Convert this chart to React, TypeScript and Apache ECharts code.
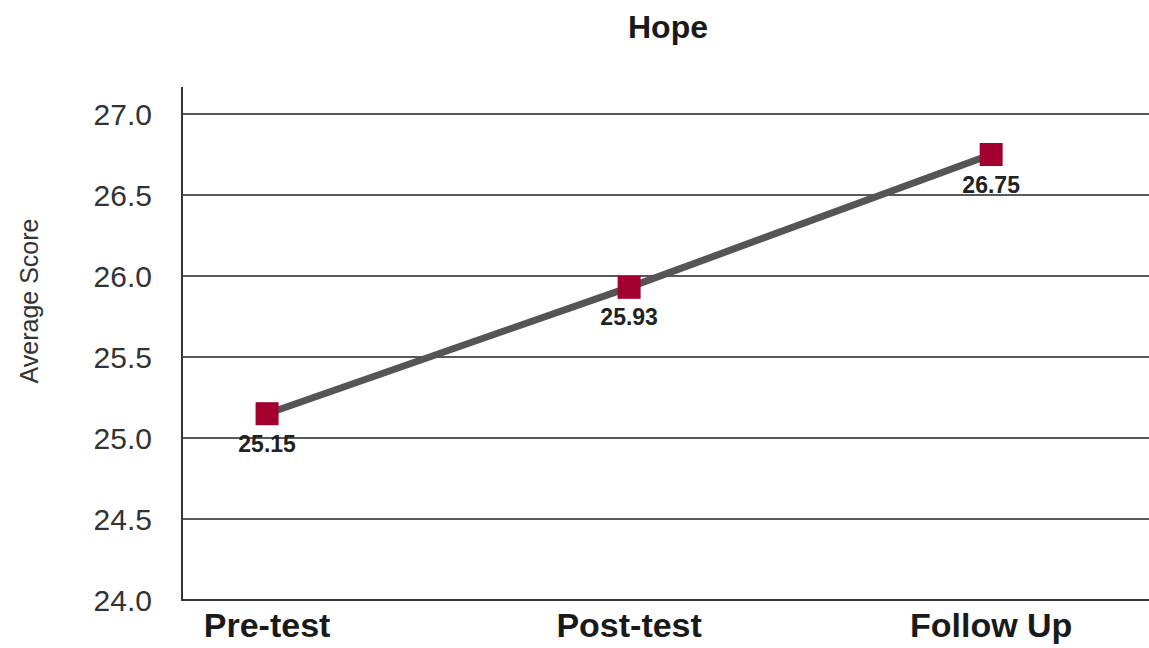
import React, { useEffect, useRef } from "react";
import * as echarts from "echarts";

// Hope scale: mean scores across three measurement points
const categories = ["Pre-test", "Post-test", "Follow Up"];
const averageScores = [25.15, 25.93, 26.75];
const yTicks = { min: 24.0, max: 27.0, interval: 0.5 };

export default function App() {
  const ref = useRef<HTMLDivElement>(null);

  useEffect(() => {
    if (!ref.current) return;
    const chart = echarts.init(ref.current, null, { renderer: "svg" });
    const points = averageScores.map((v, i) => [i, v]);

    chart.setOption({
      animation: false,
      backgroundColor: "#ffffff",
      title: {
        text: "Hope",
        left: 663,
        top: 6,
        textAlign: "center",
        textStyle: {
          fontFamily: "Liberation Sans",
          fontWeight: "bold",
          fontSize: 32,
          color: "#1a1a1a",
        },
      },
      grid: { left: 182, right: 0, top: 114, bottom: 48 },
      xAxis: {
        type: "value",
        min: -0.235,
        max: 2.436,
        splitLine: { show: false },
        axisTick: { show: false },
        axisLine: { show: true, onZero: false, lineStyle: { color: "#333", width: 2 } },
        axisLabel: {
          customValues: [0, 1, 2],
          formatter: (v: number) => categories[Math.round(v)] ?? "",
          margin: 8,
          fontFamily: "Liberation Sans",
          fontWeight: "bold",
          fontSize: 34,
          color: "#1a1a1a",
        },
      },
      yAxis: {
        type: "value",
        min: yTicks.min,
        max: yTicks.max,
        interval: yTicks.interval,
        name: "Average Score",
        nameLocation: "middle",
        nameGap: 141,
        nameTextStyle: {
          fontFamily: "Liberation Sans",
          fontSize: 25,
          color: "#333",
          padding: [0, 0, 0, 112],
        },
        axisLine: { show: true, onZero: false, lineStyle: { color: "#333", width: 2 } },
        axisTick: { show: false },
        splitLine: { show: true, lineStyle: { color: "#222", width: 1.5 } },
        axisLabel: {
          formatter: (v: number) => v.toFixed(1),
          margin: 30,
          fontFamily: "Liberation Sans",
          fontSize: 30,
          color: "#333",
        },
      },
      graphic: [
        {
          type: "line",
          shape: { x1: 182, y1: 87, x2: 182, y2: 114 },
          style: { stroke: "#333", lineWidth: 2 },
        },
      ],
      series: [
        {
          type: "line",
          data: points,
          symbol: "rect",
          symbolSize: 23,
          lineStyle: { color: "#555", width: 7 },
          itemStyle: { color: "#a3002f" },
          label: {
            show: true,
            position: "bottom",
            distance: 7,
            formatter: (p: any) => p.value[1].toFixed(2),
            fontFamily: "Liberation Sans",
            fontWeight: "bold",
            fontSize: 23,
            color: "#222",
          },
          z: 3,
        },
      ],
    });

    return () => chart.dispose();
  }, []);

  return (
    <div
      ref={ref}
      style={{ position: "fixed", left: 0, top: 0, width: 1149, height: 648 }}
    />
  );
}
